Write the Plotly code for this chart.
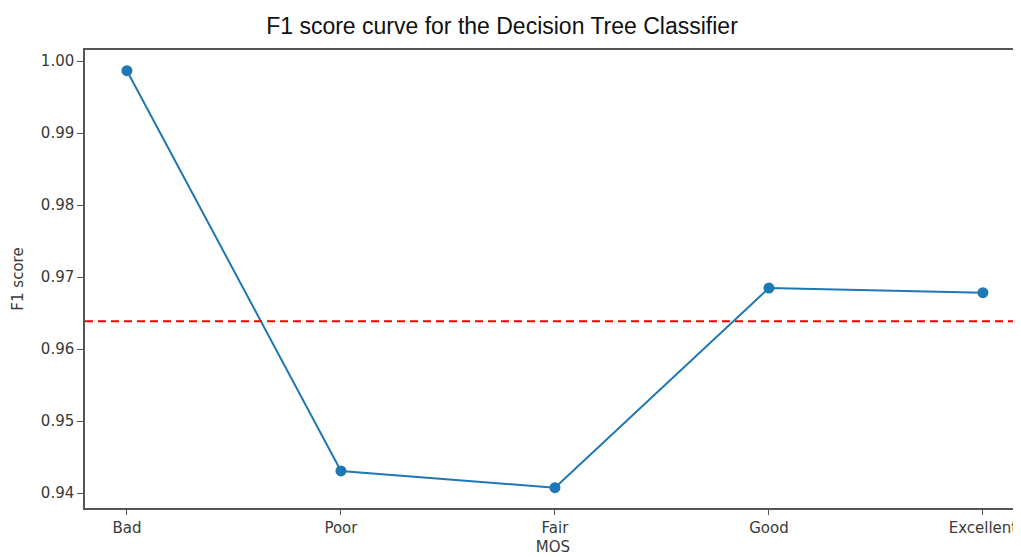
import plotly.graph_objects as go

categories = ["Bad", "Poor", "Fair", "Good", "Excellent"]
f1_scores = [0.99865, 0.94306, 0.94074, 0.96847, 0.96782]
mean_f1 = 0.96385
y_ticks = [0.94, 0.95, 0.96, 0.97, 0.98, 0.99, 1.00]

# page body has an 8px margin, so the figure is sized to fill the rest of the window
W, H = 1013, 549
L, R, T, B = 77, 0, 42, 49

fig = go.Figure()

fig.add_trace(go.Scatter(
    x=list(range(len(categories))), y=f1_scores, mode="lines+markers",
    line=dict(color="#1f77b4", width=2),
    marker=dict(color="#1f77b4", size=11),
    showlegend=False, cliponaxis=False,
))

fig.add_shape(type="line", xref="paper", yref="y", x0=0, x1=1,
              y0=mean_f1, y1=mean_f1,
              line=dict(color="red", width=2, dash="8px,5px"))

axis_font = dict(family="DejaVu Sans", size=15, color="#3a3a3a")

fig.update_layout(
    width=W, height=H,
    margin=dict(l=L, r=R, t=T, b=B, autoexpand=False),
    paper_bgcolor="white", plot_bgcolor="white",
    title=dict(text="F1 score curve for the Decision Tree Classifier",
               x=494 / W, xanchor="center", xref="container",
               y=1 - 18 / H, yanchor="middle", yref="container",
               font=dict(family="Liberation Sans, Arial", size=23, color="#111")),
    xaxis=dict(
        range=[-0.196, -0.196 + (W - L) / 214.0],
        tickmode="array", tickvals=list(range(len(categories))), ticktext=categories,
        showgrid=False, zeroline=False, automargin=False,
        showline=True, linecolor="#555", linewidth=1.5, mirror=True,
        ticks="outside", ticklen=5, tickcolor="#555", tickwidth=1,
        tickfont=axis_font,
        title=dict(text="MOS", font=axis_font, standoff=6),
    ),
    yaxis=dict(
        range=[0.937917, 1.001528],
        tickmode="array", tickvals=y_ticks,
        ticktext=[f"{v:.2f}" for v in y_ticks],
        showgrid=False, zeroline=False, automargin=False,
        showline=True, linecolor="#555", linewidth=1.5, mirror=False,
        ticks="outside", ticklen=6, tickcolor="#555", tickwidth=1,
        tickfont=axis_font,
        title=dict(text="F1 score", font=axis_font, standoff=14),
    ),
)

fig.write_html("out.html")
